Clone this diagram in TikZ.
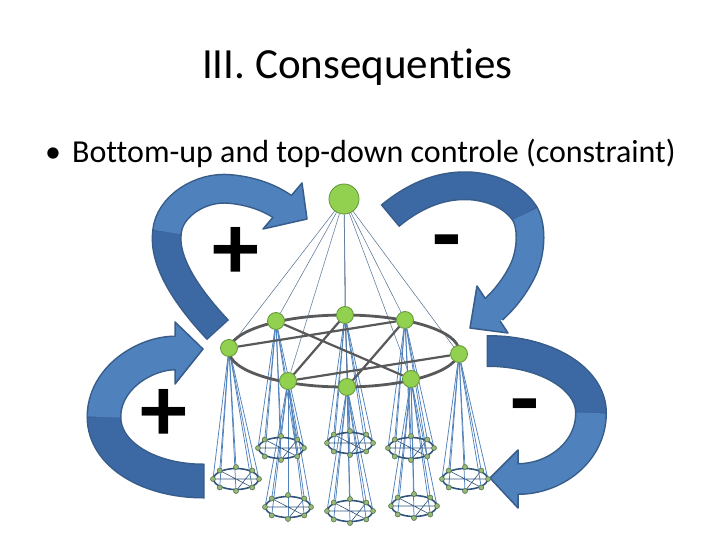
\documentclass[tikz,border=0pt]{standalone}
\usepackage{fontspec}
\setmainfont{Carlito}[Ligatures={NoCommon}]
\usetikzlibrary{backgrounds}
\definecolor{alight}{RGB}{79,129,189}
\definecolor{adark}{RGB}{60,104,163}
\definecolor{aline}{RGB}{56,93,138}
\definecolor{ngreen}{RGB}{146,208,80}
\definecolor{ngreenline}{RGB}{98,150,58}
\definecolor{webgray}{RGB}{89,89,89}
\definecolor{topln}{RGB}{80,112,145}
\definecolor{fanln}{RGB}{79,129,189}
\definecolor{ringln}{RGB}{50,85,125}
\definecolor{rnfill}{RGB}{150,185,120}
\definecolor{rnline}{RGB}{75,105,70}
\begin{document}
\begin{tikzpicture}[x=1pt,y=-1pt,
  mainnode/.style={circle, fill=ngreen, draw=ngreenline, line width=0.8pt, minimum size=17pt, inner sep=0pt},
  topnode/.style={mainnode, minimum size=30pt},
  ringnode/.style={circle, fill=rnfill, draw=rnline, line width=0.5pt, minimum size=5pt, inner sep=0pt},
  ringline/.style={draw=ringln, line width=1.6pt},
  ringin/.style={draw=ringln, line width=0.6pt},
  fanline/.style={draw=fanln, line width=0.75pt},
  topline/.style={draw=topln, line width=0.5pt},
  webline/.style={draw=webgray, line width=2.2pt},
  bandout/.style={draw=aline, line cap=butt},
  headstyle/.style={fill=alight, draw=aline, line width=1.5pt, line join=round},
  signtext/.style={font=\fontsize{94}{100}\selectfont\bfseries, inner sep=0pt},
]
\useasboundingbox (0,0) rectangle (720,540);

% ---------- texts ----------
\node[anchor=base, inner sep=0pt, font=\fontsize{43}{50}\selectfont] (title) at (357.5,79) {III. Consequenties};
\node[anchor=base west, inner sep=0pt, font=\fontsize{32}{38}\selectfont] (bul) at (45,163) {•};
\node[anchor=base west, inner sep=0pt, font=\fontsize{32}{38}\selectfont] (line1) at (72,163) {Bottom-up and top-down controle (constraint)};

\node[signtext] (plusA) at (235.5,253) {+};
\node[signtext] (plusB) at (163.5,415.5) {+};
\node[signtext] (minA) at (447,250.5) {-};
\node[signtext] (minB) at (525,414.5) {-};

% ---------- network nodes ----------
\node[topnode] (top) at (344,199) {};
\foreach \i/\px/\py/\cx/\cy in {0/229/348/236/479, 1/276/321/281/448, 2/345/315/350/443, 3/405/320/411/448, 4/459/354/465/479, 5/411/379/414/506, 6/347/387/350/511, 7/288/381/288/507}{
  \draw[ringline] (\cx,\cy) ellipse [x radius=22.5, y radius=10.5];
  \foreach \k in {0,...,7}{
    \node[ringnode] (r\i-\k) at ({\cx+23*cos(45*\k)},{\cy+12*sin(45*\k)}) {};
  }
  \draw[ringin] (r\i-0) -- (r\i-4) (r\i-5) -- (r\i-1) (r\i-7) -- (r\i-2);
}
\draw[webgray, line width=2.8pt] (344,351) ellipse [x radius=115, y radius=36];
\foreach \i/\px/\py in {0/229/348, 1/276/321, 2/345/315, 3/405/320, 4/459/354, 5/411/379, 6/347/387, 7/288/381}{
  \node[mainnode] (m\i) at (\px,\py) {};
}

\begin{scope}[on background layer]
  \fill[white] (0,0) rectangle (720,540);
  % ---- arrow 1 (top left, +) ----
  \draw[bandout, line width=30pt] (218,330.1) -- (217,329) .. controls (188,298) and (163,262) .. (167,232) .. controls (169,207) and (200,186) .. (230,189) .. controls (252,191) and (270,198) .. (283,207);
  \draw[headstyle] (302,183) -- (307,219) -- (263,229) -- cycle;
  \draw[adark, line width=27pt] (217,329) .. controls (188,298) and (163,262) .. (167,232);
  \draw[alight, line width=27pt] (167,232) .. controls (169,207) and (200,186) .. (230,189) .. controls (252,191) and (270,198) .. (283,207) -- (286,209);
  % ---- arrow 2 (top right, -) ----
  \draw[bandout, line width=29pt] (389.8,216) -- (391,215) .. controls (418,193) and (445,184) .. (472,186) .. controls (495,188) and (515,198) .. (525,214) .. controls (533,228) and (531,255) .. (522,272) .. controls (514,288) and (503,301) .. (493,310);
  \draw[headstyle] (477,286) -- (470,328) -- (508,333) -- cycle;
  \draw[adark, line width=26pt] (391,215) .. controls (418,193) and (445,184) .. (472,186) .. controls (495,188) and (515,198) .. (525,214);
  \draw[alight, line width=26pt] (525,214) .. controls (533,228) and (531,255) .. (522,272) .. controls (514,288) and (503,301) .. (493,310) -- (490.7,311.9);
  % ---- arrow 3 (bottom left, +) ----
  \draw[bandout, line width=35pt] (204.5,481) -- (203,481) .. controls (150,481) and (104,455) .. (104,417) .. controls (104,378) and (145,353) .. (175,353);
  \draw[headstyle] (175,322) -- (203,349) -- (175,384) -- cycle;
  \draw[adark, line width=32pt] (203,481) .. controls (150,481) and (104,455) .. (104,417);
  \draw[alight, line width=32pt] (104,417) .. controls (104,378) and (145,353) .. (175,353) -- (179,353);
  % ---- arrow 4 (bottom right, -) ----
  \draw[bandout, line width=32pt] (486.5,351) -- (488,351) .. controls (545,351) and (591,378) .. (591,413) .. controls (591,452) and (555,479) .. (518,479);
  \draw[headstyle] (518,450) -- (490,478) -- (518,508) -- cycle;
  \draw[adark, line width=29pt] (488,351) .. controls (545,351) and (591,378) .. (591,413);
  \draw[alight, line width=29pt] (591,413) .. controls (591,452) and (555,479) .. (518,479) -- (514,479);

  % ---- connectors ----
  \foreach \i in {0,...,7}{
    \draw[topline] (top) -- (m\i);
    \foreach \k in {0,...,7}{
      \draw[fanline] (m\i) -- (r\i-\k);
    }
  }
  \draw[webline] (m0) -- (m3) (m1) -- (m5) (m2) -- (m7) (m3) -- (m6) (m7) -- (m4);
\end{scope}
\end{tikzpicture}
\end{document}
